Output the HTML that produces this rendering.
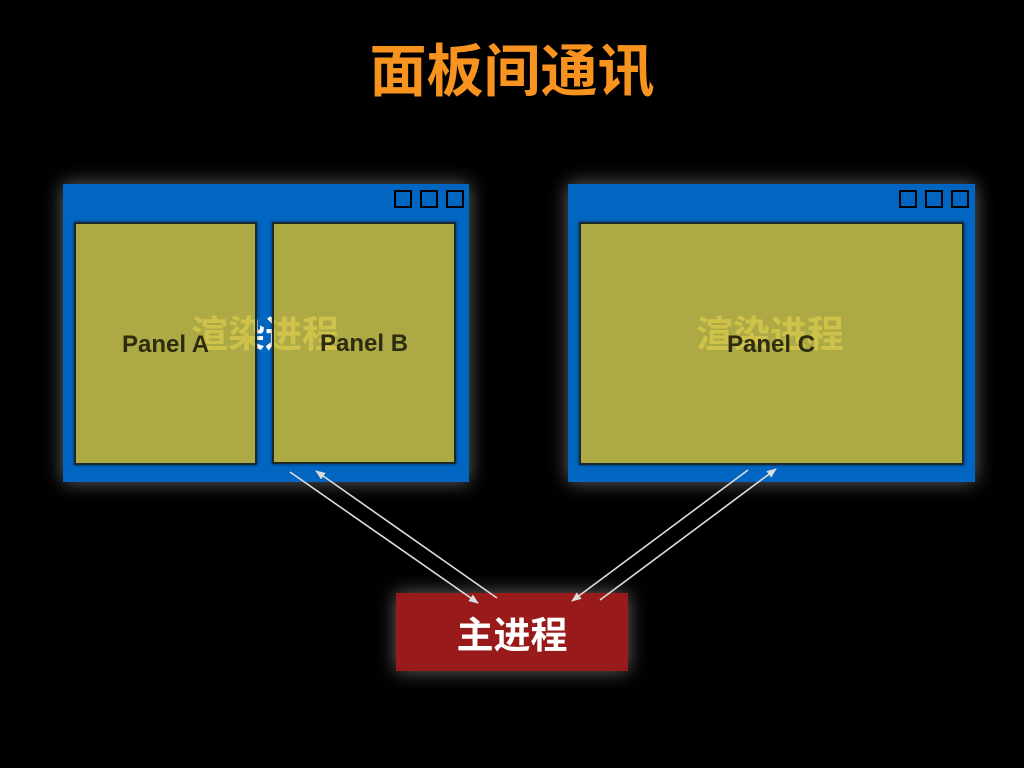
<!DOCTYPE html>
<html><head><meta charset="utf-8"><style>
body{margin:0;width:1024px;height:768px;background:#000;position:relative;overflow:hidden;font-family:"Liberation Sans","Noto Sans CJK SC",sans-serif}
.abs{position:absolute}
.win{background:#0066c2;box-shadow:0 0 18px rgba(255,255,255,0.4)}
.sq{position:absolute;top:6px;width:14px;height:14px;border:2px solid #000}
.panel{position:absolute;background:#adaa45;border:2px solid #1a2a2a;box-sizing:border-box;overflow:hidden;box-shadow:0 0 3px rgba(0,0,0,0.6)}
.pl{position:absolute;font-weight:bold;font-size:24px;color:#2e2c10;white-space:nowrap}
.wm{position:absolute;font-size:37px;font-weight:bold;color:#fff;white-space:nowrap;font-family:"Noto Sans CJK SC",sans-serif}
.wy{color:#cfc24b}
</style></head><body>
<div class="abs" style="left:0;top:26px;width:1024px;text-align:center;font-size:57px;font-weight:bold;color:#f7931e;font-family:'Noto Sans CJK SC',sans-serif">面板间通讯</div>

<div class="abs win" style="left:63px;top:184px;width:406px;height:298px">
  <div class="sq" style="left:331px"></div><div class="sq" style="left:357px"></div><div class="sq" style="left:383px"></div>
  <div class="wm" style="left:128px;top:120px">渲染进程</div>
  <div class="panel" style="left:11px;top:38px;width:183px;height:243px"><div class="wm wy" style="left:115px;top:80px">渲染进程</div></div>
  <div class="panel" style="left:209px;top:38px;width:184px;height:242px"><div class="wm wy" style="left:-83px;top:80px">渲染进程</div></div>
  <div class="pl" style="left:59px;top:147px">Panel A</div>
  <div class="pl" style="left:257px;top:146px">Panel B</div>
</div>

<div class="abs win" style="left:568px;top:184px;width:407px;height:298px">
  <div class="sq" style="left:331px"></div><div class="sq" style="left:357px"></div><div class="sq" style="left:383px"></div>
  <div class="panel" style="left:11px;top:38px;width:385px;height:243px"><div class="wm wy" style="left:115px;top:80px">渲染进程</div></div>
  <div class="pl" style="left:159px;top:147px">Panel C</div>
</div>

<div class="abs" style="left:396px;top:593px;width:232px;height:78px;background:#991a1a;box-shadow:0 0 18px rgba(255,255,255,0.4);color:#fff;font-size:37px;font-weight:bold;text-align:center;line-height:78px;font-family:'Noto Sans CJK SC',sans-serif">主进程</div>

<svg class="abs" style="left:0;top:0" width="1024" height="768">
<defs><marker id="a" markerWidth="10" markerHeight="8" refX="9" refY="4" orient="auto" markerUnits="userSpaceOnUse"><path d="M0,0L10,4L0,8z" fill="#ddd"/></marker></defs>
<g stroke="#ddd" stroke-width="1.6" fill="none">
<line x1="290" y1="472" x2="478" y2="603" marker-end="url(#a)"/>
<line x1="497" y1="598" x2="316" y2="471" marker-end="url(#a)"/>
<line x1="748" y1="470" x2="572" y2="601" marker-end="url(#a)"/>
<line x1="600" y1="600" x2="776" y2="469" marker-end="url(#a)"/>
</g></svg>
</body></html>
